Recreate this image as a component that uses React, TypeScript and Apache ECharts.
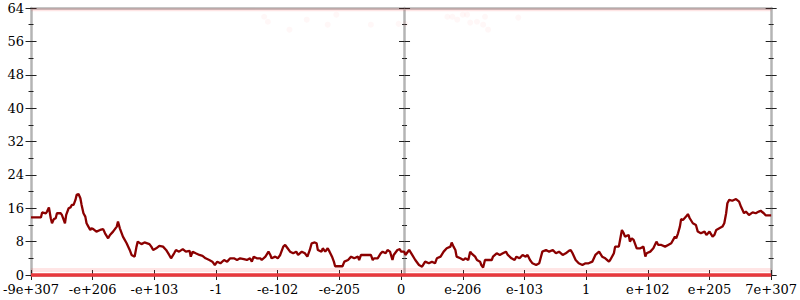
import React, { useEffect, useRef } from "react";
import * as echarts from "echarts";

// Tick labels of the float-ordered x axis, for positions -6 .. 6
const xTickLabels = [
  "-9e+307", "-e+206", "-e+103", "-1", "-e-102", "-e-205", "0",
  "e-206", "e-103", "1", "e+102", "e+205", "7e+307",
];

// Random-walk curve: [axis position, value]
const walkNegLarge: [number, number][] = [
  [-6.0, 13.8], [-5.84, 13.8], [-5.82, 15.0], [-5.76, 14.8], [-5.74, 15.2], [-5.71, 16.2], [-5.68, 13.6],
  [-5.66, 12.4], [-5.63, 13.4], [-5.6, 13.6], [-5.58, 14.8], [-5.52, 14.8], [-5.5, 14.4], [-5.47, 13.2],
  [-5.45, 12.4], [-5.43, 14.4], [-5.39, 16.0], [-5.36, 16.2], [-5.34, 16.8], [-5.31, 16.8], [-5.28, 18.0],
  [-5.26, 19.2], [-5.23, 19.4], [-5.2, 18.4], [-5.18, 16.8], [-5.15, 14.8], [-5.12, 14.0], [-5.1, 12.4],
  [-5.07, 11.6], [-5.04, 10.8], [-5.02, 11.2], [-4.99, 11.0], [-4.94, 10.4], [-4.88, 10.8], [-4.83, 11.0],
  [-4.8, 10.0], [-4.75, 8.8], [-4.72, 9.6], [-4.67, 10.4], [-4.61, 11.6], [-4.59, 12.8], [-4.56, 11.2],
  [-4.51, 9.2], [-4.45, 7.6], [-4.4, 6.0], [-4.37, 4.8], [-4.32, 4.4], [-4.29, 6.8], [-4.27, 8.0],
  [-4.21, 7.4], [-4.16, 7.8], [-4.08, 7.4], [-4.05, 6.8], [-4.02, 6.0], [-3.97, 6.4], [-3.92, 7.0],
  [-3.86, 6.8], [-3.81, 6.0], [-3.76, 4.8], [-3.73, 4.0], [-3.68, 5.2], [-3.65, 6.0], [-3.6, 5.6],
  [-3.54, 6.2], [-3.49, 5.6], [-3.43, 5.8], [-3.41, 4.4], [-3.38, 5.6], [-3.33, 5.2], [-3.27, 4.8],
  [-3.22, 4.6],
];
const walkNegSmall: [number, number][] = [
  [-3.17, 4.0], [-3.11, 3.6], [-3.06, 3.2], [-3.02, 2.4], [-2.98, 3.2], [-2.93, 2.8], [-2.87, 3.6],
  [-2.82, 3.2], [-2.77, 4.0], [-2.71, 4.0], [-2.66, 3.6], [-2.61, 4.0], [-2.55, 3.8], [-2.5, 3.6],
  [-2.45, 4.0], [-2.42, 3.2], [-2.39, 4.4], [-2.34, 4.0], [-2.28, 4.0], [-2.26, 3.6], [-2.2, 4.4],
  [-2.15, 5.6], [-2.12, 4.8], [-2.1, 4.0], [-2.04, 4.4], [-2.0, 4.0], [-1.96, 4.8], [-1.91, 6.8],
  [-1.88, 7.2], [-1.84, 6.4], [-1.8, 5.6], [-1.75, 5.2], [-1.7, 5.6], [-1.67, 4.8], [-1.61, 5.6],
  [-1.56, 5.2], [-1.52, 4.4], [-1.48, 6.0], [-1.45, 7.6], [-1.4, 7.8], [-1.37, 7.6], [-1.35, 6.0],
  [-1.29, 5.6], [-1.27, 6.4], [-1.23, 5.6], [-1.19, 6.4], [-1.16, 5.6], [-1.12, 4.4], [-1.09, 3.2],
  [-1.07, 2.1], [-0.95, 2.1], [-0.92, 3.2], [-0.86, 3.6], [-0.81, 4.4], [-0.76, 4.0], [-0.7, 4.4],
  [-0.68, 3.6], [-0.65, 4.8], [-0.49, 4.8], [-0.46, 3.6], [-0.44, 4.0], [-0.38, 4.0], [-0.33, 5.2],
  [-0.3, 5.6], [-0.25, 5.2], [-0.22, 6.0], [-0.18, 5.6], [-0.14, 3.6], [-0.12, 4.8], [-0.06, 6.0],
  [-0.02, 6.2],
];
const walkPosSmall: [number, number][] = [
  [0.0, 5.6], [0.05, 5.6], [0.07, 4.8], [0.13, 6.0], [0.18, 4.8], [0.23, 3.6], [0.29, 2.4],
  [0.34, 2.0], [0.39, 3.2], [0.45, 2.8], [0.5, 3.2], [0.55, 2.8], [0.58, 4.0], [0.64, 4.4],
  [0.69, 5.6], [0.74, 6.4], [0.8, 6.8], [0.82, 7.8], [0.85, 6.8], [0.88, 6.0], [0.9, 4.4],
  [0.96, 4.0], [1.01, 3.6], [1.04, 4.0], [1.09, 3.6], [1.12, 5.6], [1.14, 5.2], [1.2, 4.4],
  [1.23, 3.6], [1.28, 3.2], [1.3, 2.4], [1.33, 1.8], [1.36, 3.6], [1.47, 3.6], [1.49, 4.4],
  [1.55, 5.2], [1.6, 4.8], [1.65, 5.2], [1.7, 5.6], [1.73, 4.8], [1.79, 4.0], [1.84, 3.6],
  [1.87, 4.4], [1.92, 4.0], [1.97, 4.8], [2.02, 4.4], [2.05, 4.8], [2.09, 3.6], [2.13, 2.8],
  [2.19, 2.4], [2.24, 2.8], [2.29, 5.6], [2.35, 6.0], [2.4, 5.6], [2.46, 6.0], [2.51, 5.2],
  [2.56, 5.6], [2.62, 4.8], [2.67, 5.2], [2.72, 5.8], [2.75, 6.0], [2.78, 5.2], [2.83, 3.6],
  [2.88, 2.8], [2.94, 2.4], [2.99, 2.8], [3.04, 2.8], [3.1, 3.2], [3.15, 4.8], [3.21, 5.6],
];
const walkPosLarge: [number, number][] = [
  [3.26, 4.4], [3.31, 4.0], [3.37, 3.2], [3.39, 3.6], [3.45, 5.2], [3.47, 6.8], [3.53, 6.8],
  [3.55, 8.4], [3.58, 10.8], [3.61, 10.0], [3.63, 9.2], [3.69, 9.6], [3.71, 8.0], [3.74, 8.8],
  [3.77, 8.4], [3.82, 6.4], [3.88, 6.4], [3.93, 6.8], [3.96, 4.4], [3.98, 5.2], [4.04, 5.6],
  [4.09, 6.4], [4.14, 8.0], [4.17, 7.2], [4.22, 7.2], [4.28, 6.8], [4.33, 7.2], [4.38, 7.6],
  [4.44, 9.2], [4.46, 8.8], [4.49, 10.0], [4.52, 11.6], [4.54, 13.4], [4.57, 13.2], [4.62, 14.0],
  [4.65, 14.6], [4.68, 13.6], [4.73, 12.4], [4.78, 12.0], [4.81, 10.4], [4.86, 10.0], [4.92, 10.4],
  [4.95, 9.6], [5.0, 10.4], [5.05, 9.2], [5.08, 9.6], [5.11, 10.8], [5.16, 11.2], [5.21, 11.6],
  [5.24, 12.4], [5.27, 14.8], [5.29, 17.2], [5.32, 18.0], [5.37, 17.8], [5.43, 18.2], [5.48, 17.6],
  [5.51, 16.4], [5.56, 14.8], [5.59, 15.2], [5.64, 14.4], [5.7, 15.0], [5.75, 14.8], [5.8, 15.2],
  [5.83, 15.4], [5.88, 14.8], [5.91, 14.3], [6.0, 14.3],
];

// Faint sample clouds hugging the bottom and top of the range
const floorLine: [number, number][] = [[-6, 0], [6, 0]];
const floorHaze: [number, number][] = [[-6, 1.2], [6, 1.2]];
const ceilingHaze: [number, number][] = [[-6, 63.6], [6, 63.6]];
const strayPoints: [number, number][] = [
  [0.75, 61.9], [0.83, 61.9], [0.91, 61.2], [1.0, 62.4], [1.07, 62.4], [1.12, 60.5], [1.23, 60.7],
  [1.33, 60.0], [1.41, 58.8], [1.36, 61.9], [1.9, 61.7], [0.07, 60.2], [-2.22, 61.9], [-2.16, 60.7],
  [-1.81, 58.8], [-1.53, 61.2], [-1.19, 60.0], [-1.05, 62.4], [-0.49, 60.0], [-0.04, 60.2],
];

const AXIS_GREY = "#b4b4b4";
const TICK = "#222";
const FONT = "'DejaVu Serif', serif";

export default function App() {
  const ref = useRef<HTMLDivElement>(null);

  useEffect(() => {
    document.body.style.margin = "0";
    if (!ref.current) return;
    const chart = echarts.init(ref.current, undefined, { renderer: "svg" });

    const GRID_LEFT = 27;
    const GRID_RIGHT = 26;
    const gridWidth = 800 - GRID_LEFT - GRID_RIGHT;

    const baseY = {
      type: "value",
      min: 0,
      max: 64,
      interval: 8,
      splitLine: { show: false },
      minorSplitLine: { show: false },
    };
    const yAxisFor = (position: string, offset: number, inside: boolean, showLine: boolean, labels: boolean) => ({
      ...baseY,
      position,
      offset,
      axisLine: { show: showLine, onZero: false, lineStyle: { color: AXIS_GREY, width: 2.5 } },
      axisTick: { show: true, inside, length: 5.5, lineStyle: { color: TICK, width: 1 } },
      minorTick: { show: true, splitNumber: 2, length: 2.5, lineStyle: { color: TICK, width: 1 } },
      axisLabel: {
        show: labels,
        margin: 7,
        color: "#000",
        fontFamily: FONT,
        fontSize: 13,
        lineHeight: 12,
        padding: [0, 0, 1, 0],
      },
    });

    const midOffset = -gridWidth / 2;

    const option = {
      animation: false,
      grid: { left: GRID_LEFT, right: GRID_RIGHT, top: 8, bottom: 25, containLabel: false },
      xAxis: [
        {
          type: "value",
          min: -6,
          max: 6,
          interval: 1,
          position: "bottom",
          axisLine: { show: true, onZero: false, lineStyle: { color: AXIS_GREY, width: 2.5 } },
          axisTick: { show: true, inside: false, length: 5, lineStyle: { color: TICK, width: 1 } },
          splitLine: { show: false },
          axisLabel: {
            margin: 8,
            color: "#000",
            fontFamily: FONT,
            fontSize: 13,
            lineHeight: 12,
            formatter: (v: number) => xTickLabels[Math.round(v) + 6] ?? "",
          },
        },
        {
          type: "value",
          min: -6,
          max: 6,
          interval: 1,
          position: "bottom",
          axisLine: { show: false, onZero: false },
          axisTick: { show: true, inside: true, length: 5, lineStyle: { color: TICK, width: 1 } },
          splitLine: { show: false },
          axisLabel: { show: false },
        },
        {
          type: "value",
          min: -6,
          max: 6,
          interval: 1,
          position: "top",
          axisLine: { show: true, onZero: false, lineStyle: { color: AXIS_GREY, width: 2.5 } },
          axisTick: { show: false },
          splitLine: { show: false },
          axisLabel: { show: false },
        },
      ],
      yAxis: [
        yAxisFor("left", 0, false, true, true),
        yAxisFor("left", 0, true, false, false),
        yAxisFor("left", midOffset, false, true, false),
        yAxisFor("left", midOffset, true, false, false),
        yAxisFor("right", 0, false, true, false),
        yAxisFor("right", 0, true, false, false),
      ],
      series: [
        {
          type: "line",
          data: floorHaze,
          symbol: "none",
          clip: false,
          lineStyle: { color: "rgba(255,70,70,0.14)", width: 4 },
          z: 3,
        },
        {
          type: "line",
          data: ceilingHaze,
          symbol: "none",
          clip: false,
          lineStyle: { color: "rgba(255,70,70,0.14)", width: 3 },
          z: 3,
        },
        {
          type: "scatter",
          data: strayPoints,
          symbolSize: 6,
          itemStyle: { color: "rgba(255,80,80,0.06)" },
          z: 3,
        },
        {
          type: "line",
          data: floorLine,
          symbol: "none",
          clip: false,
          lineStyle: { color: "#e8383d", width: 3.5 },
          z: 4,
        },
        {
          type: "line",
          data: [...walkNegLarge, ...walkNegSmall, ...walkPosSmall, ...walkPosLarge],
          symbol: "none",
          clip: false,
          lineStyle: { color: "#8b0000", width: 2.3 },
          z: 5,
        },
      ],
    };

    chart.setOption(option as any);
    return () => chart.dispose();
  }, []);

  return <div ref={ref} style={{ width: 800, height: 300 }} />;
}
